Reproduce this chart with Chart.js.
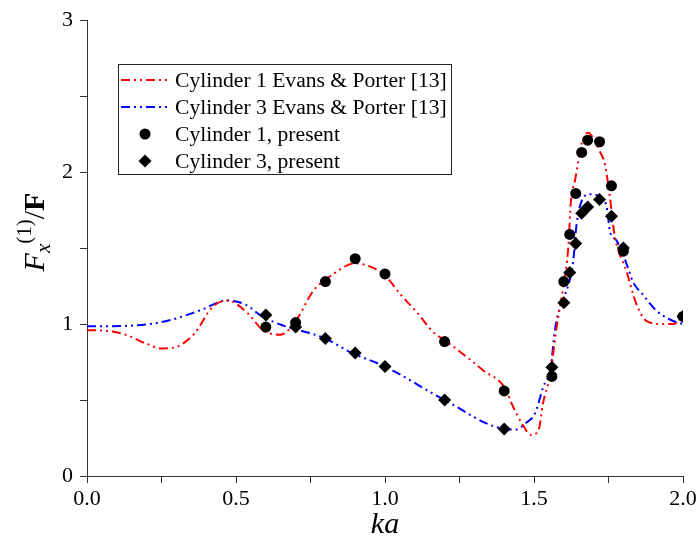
<!DOCTYPE html>
<html>
<head>
<meta charset="utf-8">
<script src="https://cdn.jsdelivr.net/npm/chart.js@4"></script>
<style>
  html, body { margin: 0; padding: 0; background: #fff; }
  #chart { display: block; }
</style>
</head>
<body>
<canvas id="chart" width="700" height="543"></canvas>
<script>
// ── Data ──────────────────────────────────────────────────────
const evans1X = [0, 0.07, 0.13, 0.2, 0.25, 0.29, 0.36, 0.42, 0.47, 0.54, 0.59, 0.65, 0.70, 0.76, 0.82, 0.9, 0.96, 1.0, 1.05, 1.11, 1.16, 1.21, 1.27, 1.33, 1.40, 1.43, 1.46, 1.49, 1.515, 1.53, 1.555, 1.576, 1.598, 1.615, 1.624, 1.638, 1.66, 1.682, 1.70, 1.72, 1.738, 1.755, 1.77, 1.81, 1.844, 1.878, 1.934, 1.967, 2.0];
const evans1Y = [0.96, 0.955, 0.93, 0.87, 0.84, 0.845, 0.936, 1.11, 1.155, 1.07, 0.96, 0.93, 1.02, 1.22, 1.32, 1.40, 1.37, 1.32, 1.20, 1.07, 0.95, 0.88, 0.79, 0.695, 0.586, 0.455, 0.345, 0.27, 0.30, 0.477, 0.674, 0.98, 1.24, 1.505, 1.81, 1.95, 2.19, 2.26, 2.22, 2.14, 2.05, 1.83, 1.59, 1.35, 1.13, 1.02, 1.0, 1.0, 1.05];

const evans3X = [0, 0.155, 0.267, 0.379, 0.469, 0.53, 0.592, 0.659, 0.715, 0.80, 0.883, 1.0, 1.2, 1.4, 1.442, 1.47, 1.503, 1.531, 1.556, 1.57, 1.587, 1.60, 1.632, 1.643, 1.66, 1.688, 1.72, 1.744, 1.755, 1.777, 1.81, 1.833, 1.867, 1.91, 1.967, 2.0];
const evans3Y = [0.985, 0.99, 1.02, 1.09, 1.155, 1.13, 1.045, 0.99, 0.958, 0.905, 0.815, 0.72, 0.50, 0.31, 0.306, 0.345, 0.41, 0.586, 0.715, 0.958, 1.11, 1.17, 1.42, 1.66, 1.81, 1.855, 1.84, 1.77, 1.61, 1.55, 1.40, 1.275, 1.19, 1.09, 1.02, 1.0];

const presentX = [0.6, 0.7, 0.8, 0.9, 1.0, 1.2, 1.4, 1.56, 1.6, 1.62, 1.64, 1.66, 1.68, 1.72, 1.76, 1.8, 2.0];
const present1Y = [0.98, 1.01, 1.28, 1.43, 1.33, 0.885, 0.56, 0.655, 1.28, 1.59, 1.86, 2.13, 2.21, 2.20, 1.91, 1.48, 1.05];
const present3Y = [1.06, 0.98, 0.905, 0.81, 0.72, 0.50, 0.31, 0.715, 1.14, 1.34, 1.53, 1.73, 1.77, 1.82, 1.71, 1.50, 1.05];

const seriesLabels = [
  'Cylinder 1 Evans & Porter [13]',
  'Cylinder 3 Evans & Porter [13]',
  'Cylinder 1, present',
  'Cylinder 3, present',
];

const xTicks = [0, 0.5, 1.0, 1.5, 2.0];
const yTicks = [0, 1, 2, 3];

const toPoints = (xs, ys) => xs.map((x, i) => ({ x, y: ys[i] }));

// ── Styling ───────────────────────────────────────────────────
const SERIF = "'Liberation Serif', 'Times New Roman', serif";
const DASH = [9, 4, 2, 4, 2, 4];
const AXIS = '#333';

// Legend drawn inside the plot, like the reference figure
const boxLegend = {
  id: 'boxLegend',
  afterDraw(chart) {
    const c = chart.ctx;
    const left = 118, top = 64, right = 451, bottom = 174;
    const rows = [80, 107, 134, 161];
    c.save();
    c.fillStyle = '#fff';
    c.fillRect(left, top, right - left, bottom - top);
    c.strokeStyle = '#222';
    c.lineWidth = 1;
    c.strokeRect(left + 0.5, top + 0.5, right - left, bottom - top);

    chart.data.datasets.forEach((ds, i) => {
      const y = rows[i];
      if (ds.showLine) {
        c.save();
        c.strokeStyle = ds.borderColor;
        c.lineWidth = ds.borderWidth;
        c.setLineDash(ds.borderDash);
        c.beginPath();
        c.moveTo(121, y);
        c.lineTo(167, y);
        c.stroke();
        c.restore();
      } else {
        c.fillStyle = '#000';
        c.beginPath();
        if (ds.pointStyle === 'rectRot') {
          const r = 6.5;
          c.moveTo(145, y - r); c.lineTo(145 + r, y);
          c.lineTo(145, y + r); c.lineTo(145 - r, y);
          c.closePath();
        } else {
          c.arc(145, y, 5.5, 0, Math.PI * 2);
        }
        c.fill();
      }
      c.fillStyle = '#000';
      c.font = `21.6px ${SERIF}`;
      c.textBaseline = 'middle';
      c.textAlign = 'left';
      c.fillText(ds.label, 175, y + 1);
    });
    c.restore();
  },
};

// Axis titles with italic / sub / superscript pieces
const axisTitles = {
  id: 'axisTitles',
  afterDraw(chart) {
    const c = chart.ctx;
    c.save();
    c.fillStyle = '#000';
    c.textBaseline = 'alphabetic';

    // x title "ka"
    c.font = `italic 30px ${SERIF}`;
    c.textAlign = 'center';
    c.fillText('ka', 385, 533);

    // y title  F_x^(1)/F, rotated
    const parts = [
      { t: 'F', font: `italic 30px ${SERIF}`, dy: 0 },
      { t: 'x', font: `italic 21px ${SERIF}`, dy: 6 },
      { t: '(1)', font: `21px ${SERIF}`, dy: -13 },
      { t: '/', font: `30px ${SERIF}`, dy: 0 },
      { t: 'F', font: `bold 30px ${SERIF}`, dy: 0 },
    ];
    let total = 0;
    parts.forEach((p) => { c.font = p.font; p.w = c.measureText(p.t).width; total += p.w; });
    c.translate(44, 232);
    c.rotate(-Math.PI / 2);
    c.textAlign = 'left';
    let x = -total / 2;
    parts.forEach((p) => {
      c.font = p.font;
      c.fillText(p.t, x, p.dy);
      x += p.w;
    });
    c.restore();
  },
};

new Chart(document.getElementById('chart'), {
  type: 'scatter',
  data: {
    datasets: [
      {
        label: seriesLabels[0],
        data: toPoints(evans1X, evans1Y),
        showLine: true,
        borderColor: '#ff0000',
        borderWidth: 2,
        borderDash: DASH,
        pointRadius: 0,
        cubicInterpolationMode: 'monotone',
        order: 2,
      },
      {
        label: seriesLabels[1],
        data: toPoints(evans3X, evans3Y),
        showLine: true,
        borderColor: '#0000ff',
        borderWidth: 2,
        borderDash: DASH,
        pointRadius: 0,
        cubicInterpolationMode: 'monotone',
        order: 3,
      },
      {
        label: seriesLabels[2],
        data: toPoints(presentX, present1Y),
        showLine: false,
        pointStyle: 'circle',
        pointRadius: 5.5,
        backgroundColor: '#000',
        borderColor: '#000',
        borderWidth: 0,
        order: 0,
      },
      {
        label: seriesLabels[3],
        data: toPoints(presentX, present3Y),
        showLine: false,
        pointStyle: 'rectRot',
        pointRadius: 6.5,
        backgroundColor: '#000',
        borderColor: '#000',
        borderWidth: 0,
        order: 1,
      },
    ],
  },
  options: {
    responsive: false,
    animation: false,
    devicePixelRatio: 1,
    layout: { padding: { top: 19, right: 17, left: 0, bottom: 0 } },
    plugins: {
      legend: { display: false },
      tooltip: { enabled: false },
    },
    scales: {
      x: {
        type: 'linear',
        min: 0,
        max: 2,
        afterFit: (s) => { s.height = 67; },
        ticks: {
          stepSize: 0.25,
          autoSkip: false,
          maxRotation: 0,
          padding: 3,
          color: '#000',
          font: { family: SERIF, size: 22 },
          callback: (v) => (xTicks.some((t) => Math.abs(t - v) < 1e-6) ? v.toFixed(1) : ''),
        },
        grid: { drawOnChartArea: false, tickLength: 7, color: AXIS },
        border: { display: true, color: AXIS, width: 1 },
      },
      y: {
        type: 'linear',
        min: 0,
        max: 3,
        afterFit: (s) => { s.width = 87; },
        ticks: {
          stepSize: 0.5,
          autoSkip: false,
          padding: 7,
          color: '#000',
          font: { family: SERIF, size: 22 },
          callback: (v) => (yTicks.includes(v) ? String(v) : ''),
        },
        grid: { drawOnChartArea: false, tickLength: 7, color: AXIS },
        border: { display: true, color: AXIS, width: 1 },
      },
    },
  },
  plugins: [boxLegend, axisTitles],
});
</script>
</body>
</html>
